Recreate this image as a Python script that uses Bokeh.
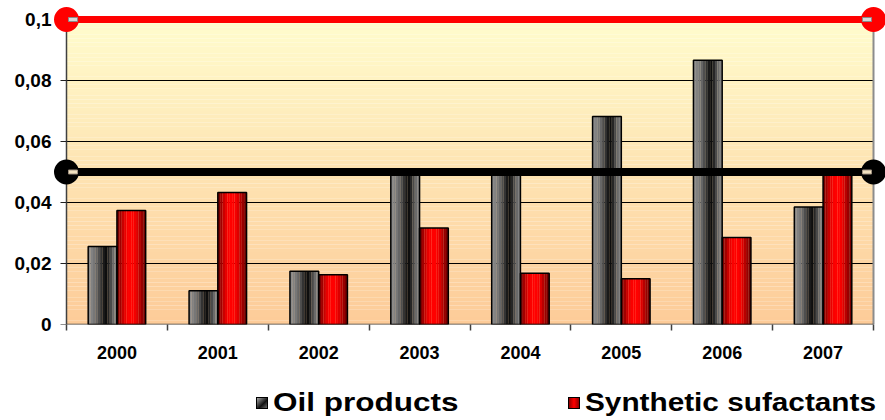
import numpy as np
from bokeh.plotting import figure
from bokeh.models import Range1d, FixedTicker, Div
from bokeh.layouts import column
from bokeh.embed import file_html
from bokeh.resources import INLINE

years = ["2000", "2001", "2002", "2003", "2004", "2005", "2006", "2007"]
oil = [0.0256, 0.0111, 0.0175, 0.0500, 0.0500, 0.0682, 0.0866, 0.0385]
surf = [0.0374, 0.0433, 0.0163, 0.0316, 0.0168, 0.0150, 0.0285, 0.0495]
series_names = ["Oil products", "Synthetic sufactants"]
limit_high = 0.1
limit_low = 0.05
y_ticks = [0, 0.02, 0.04, 0.06, 0.08, 0.1]
y_labels = ["0", "0,02", "0,04", "0,06", "0,08", "0,1"]

FONT = "Liberation Sans"
n = len(years)
centers = np.arange(n) + 0.5
ymax = y_ticks[-1]

# pixel geometry of the plot area
area_w, area_h = 807.0, 305.0
px_x = n / area_w          # data units per px (x)
px_y = ymax / area_h       # data units per px (y)
pad_l, pad_r, pad_t = 13, 12, 19

W = 885
FIG_H = 373
LEG_H = 420 - FIG_H
p = figure(width=W, height=FIG_H, output_backend="svg", toolbar_location=None,
           x_range=Range1d(-pad_l * px_x, n + pad_r * px_x),
           y_range=Range1d(0, ymax + pad_t * px_y),
           min_border_left=53, min_border_right=0, min_border_top=0, min_border_bottom=FIG_H - 324)
p.background_fill_color = "white"
p.border_fill_color = "white"
p.outline_line_color = None
p.xgrid.grid_line_color = None
p.ygrid.grid_line_color = None

# gradient background of plot area
nb = 80
edges = np.linspace(0, ymax, nb + 1)
top_c = np.array([255, 252, 205])
bot_c = np.array([253, 203, 152])
cols = []
for k in range(nb):
    t = (edges[k] + edges[k + 1]) / 2 / ymax
    c = bot_c + (top_c - bot_c) * t
    cols.append("#%02x%02x%02x" % tuple(int(round(v)) for v in c))
p.quad(left=0, right=n, bottom=edges[:-1], top=edges[1:], fill_color=cols, line_color=None)

# gridlines, axis lines, border
gy = y_ticks[1:-1]
p.segment(x0=[0] * len(gy), x1=[n] * len(gy), y0=gy, y1=gy, line_color="black", line_width=1.2)
p.segment(x0=[n], x1=[n], y0=[0], y1=[ymax], line_color="#8c8c8c", line_width=2)
p.segment(x0=[0], x1=[0], y0=[0], y1=[ymax], line_color="#404040", line_width=1.5)
p.segment(x0=[0], x1=[n], y0=[0], y1=[0], line_color="#404040", line_width=1.5)
p.segment(x0=[-6 * px_x] * len(y_ticks), x1=[0] * len(y_ticks), y0=y_ticks, y1=y_ticks,
          line_color="#202020", line_width=1.2)

bw = 0.285
ns = 12
red_cols = ["#7a0000", "#a00000", "#c80000", "#e80000", "#fa0000", "#ff0000",
            "#ff0000", "#f40000", "#dc0000", "#b80000", "#980000", "#780000"]
gray_cols = ["#8a8a8a", "#828282", "#777777", "#666666", "#4e4e4e", "#333333",
             "#1a1a1a", "#0e0e0e", "#262626", "#4a4a4a", "#6a6a6a", "#808080"]

for k in range(ns):
    xs_o = centers - bw + (k + 0.5) * bw / ns
    p.vbar(x=xs_o, top=oil, width=bw / ns * 1.05, bottom=0, fill_color=gray_cols[k], line_color=None)
    xs_s = centers + (k + 0.5) * bw / ns
    p.vbar(x=xs_s, top=surf, width=bw / ns * 1.05, bottom=0, fill_color=red_cols[k], line_color=None)
p.vbar(x=centers - bw / 2, top=oil, width=bw, fill_color=None, line_color="black", line_width=1.5)
p.vbar(x=centers + bw / 2, top=surf, width=bw, fill_color=None, line_color="black", line_width=1.5)

# limit lines
p.segment(x0=[0], x1=[n], y0=[limit_high], y1=[limit_high], line_color="#ff0000", line_width=7)
p.segment(x0=[0], x1=[n], y0=[limit_low], y1=[limit_low], line_color="black", line_width=8)
p.scatter(x=[0, n], y=[limit_high, limit_high], size=25, fill_color="#ff0000", line_color=None)
p.scatter(x=[0, n], y=[limit_low, limit_low], size=25, fill_color="black", line_color=None)
off = 6.5 * px_x
p.rect(x=[off, n - off], y=[limit_high, limit_high], width=9, height=4,
       width_units="screen", height_units="screen",
       fill_color="#d8d8d8", line_color="#8a8a8a", line_width=1)
p.rect(x=[off, n - off], y=[limit_low, limit_low], width=9, height=4,
       width_units="screen", height_units="screen",
       fill_color="#f2e2c0", line_color="#a09080", line_width=1)

# axes
p.yaxis.ticker = FixedTicker(ticks=y_ticks)
p.yaxis.major_label_overrides = {t: l for t, l in zip(y_ticks, y_labels)}
p.yaxis.major_label_text_font = FONT
p.yaxis.major_label_text_font_style = "bold"
p.yaxis.major_label_text_font_size = "19px"
p.yaxis.major_label_text_color = "black"
p.yaxis.axis_line_color = None
p.yaxis.major_tick_line_color = None
p.yaxis.major_tick_out = 0
p.yaxis.major_tick_in = 0
p.yaxis.minor_tick_line_color = None
p.yaxis.major_label_standoff = 2

p.xaxis.ticker = FixedTicker(ticks=list(centers), minor_ticks=list(range(n + 1)))
p.xaxis.major_label_overrides = {float(c): y for c, y in zip(centers, years)}
p.xaxis.major_label_text_font = FONT
p.xaxis.major_label_text_font_style = "bold"
p.xaxis.major_label_text_font_size = "18px"
p.xaxis.major_label_text_color = "black"
p.xaxis.axis_line_color = None
p.xaxis.major_tick_line_color = None
p.xaxis.major_tick_out = 0
p.xaxis.major_tick_in = 0
p.xaxis.minor_tick_line_color = "#404040"
p.xaxis.minor_tick_line_width = 1.5
p.xaxis.minor_tick_out = 6
p.xaxis.minor_tick_in = 0
p.xaxis.major_label_standoff = 15


def legend_entry(left, label, bg, scale):
    box = ("display:inline-block;flex:none;flex-shrink:0;width:12px;min-width:12px;max-width:12px;"
           "height:12px;box-sizing:border-box;border:1px solid #000;"
           f"background:{bg};")
    txt = ("display:inline-block;flex:none;margin-left:5px;line-height:25px;"
           f"transform:scaleX({scale});transform-origin:0 50%;")
    return (f"<div style=\"position:absolute;left:{left}px;top:17px;display:flex;"
            "align-items:center;white-space:nowrap;\">"
            f"<span style=\"{box}\"></span><span style=\"{txt}\">{label}</span></div>")


legend_html = (
    f"<div style=\"position:relative;width:{W}px;height:{LEG_H}px;font-family:'{FONT}',Arial,sans-serif;"
    "font-weight:bold;font-size:25px;color:#000;\">"
    + legend_entry(256, series_names[0], "linear-gradient(135deg,#a8a8a8,#101010 60%,#6a6a6a)", 1.26)
    + legend_entry(568, series_names[1], "linear-gradient(90deg,#900000,#ff0000 50%,#900000)", 1.19)
    + "</div>"
)
legend_div = Div(text=legend_html, width=W, height=LEG_H, margin=0)

layout = column(p, legend_div, spacing=0, margin=0)
open("out.html", "w").write(file_html(layout, INLINE))
